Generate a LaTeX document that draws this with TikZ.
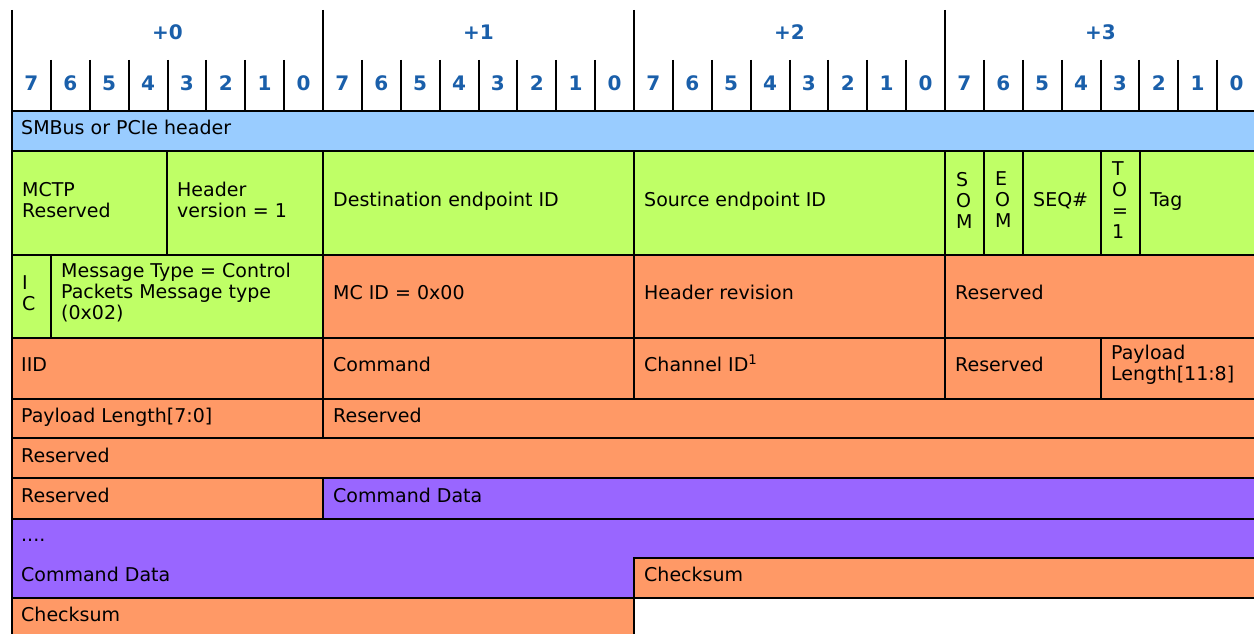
\documentclass[tikz,border=0pt]{standalone}
\usepackage{fontspec}
\setmainfont{DejaVu Sans}
\usetikzlibrary{positioning}

\definecolor{hdrblue}{HTML}{99CCFF}
\definecolor{mctpgreen}{HTML}{BFFF66}
\definecolor{ncsiorange}{HTML}{FF9966}
\definecolor{datapurple}{HTML}{9966FF}
\definecolor{bitblue}{HTML}{1A5FAA}

\begin{document}
\begin{tikzpicture}[
    x=1pt, y=-1pt,
    font=\fontsize{19}{21}\selectfont,
    grid/.style = {black, line width=2pt},
    hdr/.style = {grid, fill=hdrblue},
    mctp/.style = {grid, fill=mctpgreen},
    ncsi/.style = {grid, fill=ncsiorange},
    data/.style = {grid, fill=datapurple},
    txt/.style = {anchor=west, inner sep=0pt, text height=14pt, text depth=4pt},
    txtml/.style = {anchor=west, inner sep=0pt, align=left},
    bitnum/.style = {inner sep=0pt, text=bitblue, font=\fontsize{20}{22}\selectfont\bfseries},
]

\useasboundingbox (0,0) rectangle (1254,634);

% Kopfzeile: Bytes und Bits
\foreach \b in {1,...,31}
    \draw[grid] ({12+38.875*\b},60) -- ({12+38.875*\b},111);
\foreach \n in {1,2,3}
    \draw[grid] ({12+311*\n},10) -- ({12+311*\n},111);
\foreach \n in {0,...,3}
    \node[bitnum] (byte\n) at ({167.5+311*\n},32) {+\n};
\foreach \b in {0,...,31} {
    \pgfmathtruncatemacro{\bit}{7-mod(\b,8)}
    \node[bitnum] (bit\b) at ({12+38.875*(\b+0.5)},83) {\bit};
}

% Zeile 1: SMBus / PCIe
\draw[hdr] (12,111) rectangle (1256,151);
\node[txt] (smbus) at (21,129) {SMBus or PCIe header};

% Zeile 2: MCTP Transport-Header
\draw[mctp] (12,151) rectangle (167,255);
\node[txtml] (mctprsvd) at (22,200) {MCTP\\Reserved};
\draw[mctp] (167,151) rectangle (323,255);
\node[txtml] (hdrver) at (177,200) {Header\\version = 1};
\draw[mctp] (323,151) rectangle (634,255);
\node[txt] (destid) at (333,201) {Destination endpoint ID};
\draw[mctp] (634,151) rectangle (945,255);
\node[txt] (srcid) at (644,201) {Source endpoint ID};
\draw[mctp] (945,151) rectangle (984,255);
\node[txtml] (som) at (956,200) {S\\O\\M};
\draw[mctp] (984,151) rectangle (1023,255);
\node[txtml] (eom) at (995,200) {E\\O\\M};
\draw[mctp] (1023,151) rectangle (1101,255);
\node[txt] (seq) at (1033,201) {SEQ\#};
\draw[mctp] (1101,151) rectangle (1140,255);
\node[txtml] (tobit) at (1112,200) {T\\O\\=\\1};
\draw[mctp] (1140,151) rectangle (1256,255);
\node[txt] (tag) at (1150,201) {Tag};

% Zeile 3: Message Type / NC-SI Header
\draw[mctp] (12,255) rectangle (51,338);
\node[txtml] (icbit) at (22,293) {I\\C};
\draw[mctp] (51,255) rectangle (323,338);
\node[txtml] (msgtype) at (61,293) {Message Type = Control\\Packets Message type\\(0x02)};
\draw[ncsi] (323,255) rectangle (634,338);
\node[txt] (mcid) at (333,294) {MC ID = 0x00};
\draw[ncsi] (634,255) rectangle (945,338);
\node[txt] (hdrrev) at (644,294) {Header revision};
\draw[ncsi] (945,255) rectangle (1256,338);
\node[txt] (rsvda) at (955,294) {Reserved};

% Zeile 4
\draw[ncsi] (12,338) rectangle (323,399);
\node[txt] (iid) at (21,366) {IID};
\draw[ncsi] (323,338) rectangle (634,399);
\node[txt] (cmd) at (333,366) {Command};
\draw[ncsi] (634,338) rectangle (945,399);
\node[txt] (chanid) at (644,366) {Channel ID\textsuperscript{1}};
\draw[ncsi] (945,338) rectangle (1101,399);
\node[txt] (rsvdb) at (955,366) {Reserved};
\draw[ncsi] (1101,338) rectangle (1256,399);
\node[txtml] (plenhi) at (1111,365) {Payload\\Length[11:8]};

% Zeile 5
\draw[ncsi] (12,399) rectangle (323,438);
\node[txt] (plenlo) at (21,417) {Payload Length[7:0]};
\draw[ncsi] (323,399) rectangle (1256,438);
\node[txt] (rsvdc) at (333,417) {Reserved};

% Zeile 6
\draw[ncsi] (12,438) rectangle (1256,478);
\node[txt] (rsvdd) at (21,457) {Reserved};

% Zeile 7
\draw[ncsi] (12,478) rectangle (323,519);
\node[txt] (rsvde) at (21,497) {Reserved};
\draw[data] (323,478) rectangle (1256,519);
\node[txt] (cmddata) at (333,497) {Command Data};

% Zeilen 8-9: Daten und Checksumme
\draw[data] (12,519) -- (1256,519) -- (1256,558) -- (634,558)
    -- (634,598) -- (12,598) -- cycle;
\node[txt] (dots) at (21,536) {....};
\node[txt] (cmddataend) at (21,576) {Command Data};
\draw[ncsi] (634,558) rectangle (1256,598);
\node[txt] (chksuma) at (644,576) {Checksum};

% Zeile 10
\draw[ncsi] (12,598) rectangle (634,640);
\node[txt] (chksumb) at (21,616) {Checksum};

% linker Rand
\draw[grid] (12,10) -- (12,640);

\end{tikzpicture}
\end{document}
